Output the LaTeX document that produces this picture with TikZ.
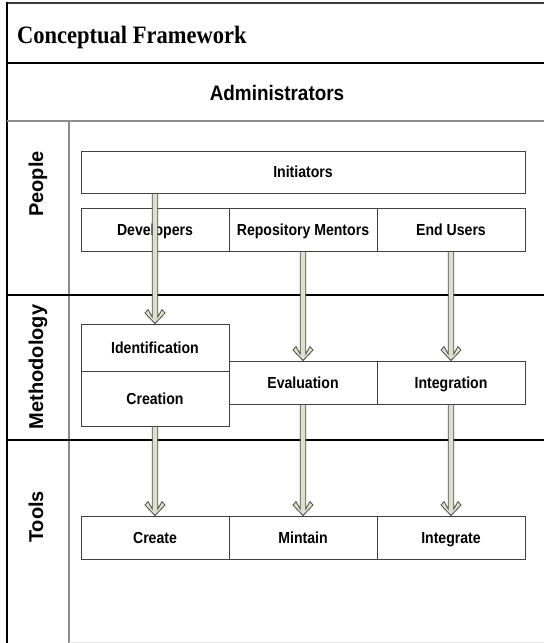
\documentclass[tikz,border=0pt]{standalone}
\usepackage{fontspec}
\setmainfont{Liberation Serif}
\setsansfont{Liberation Sans}
\usetikzlibrary{calc}

\definecolor{frameline}{HTML}{3A3A3A}
\definecolor{softline}{HTML}{8C8C8C}
\definecolor{boxline}{HTML}{404040}
\definecolor{arrowfill}{HTML}{DCE0CC}
\definecolor{arrowline}{HTML}{4A4A44}

% narrow the lettering a little, as the typeset labels are slightly condensed
\newcommand\sq[1]{\scalebox{0.88}[1]{#1}}

% hollow-headed block arrow running straight down from #1 to #2
\newcommand\fatarrow[2]{%
  \filldraw[fatarrow] let \p1=(#1), \p2=(#2) in
    (\x1-2.7pt,\y1) -- (\x1-2.7pt,\y2+6.5pt) -- (\x1-7pt,\y2+14pt)
    -- (\x1-10pt,\y2+10.5pt) -- (\x1,\y2) -- (\x1+10pt,\y2+10.5pt)
    -- (\x1+7pt,\y2+14pt) -- (\x1+2.7pt,\y2+6.5pt) -- (\x1+2.7pt,\y1) -- cycle;}

\tikzset{
  cell/.style={draw=boxline, line width=0.9pt, fill=white, inner sep=0pt,
    minimum width=148pt, minimum height=43pt, text height=11.5pt, text depth=0pt,
    font=\sffamily\bfseries\fontsize{16}{16}\selectfont},
  rowlabel/.style={rotate=90, anchor=base, inner sep=0pt,
    font=\sffamily\bfseries\fontsize{20}{20}\selectfont},
  fatarrow/.style={fill=arrowfill, draw=arrowline, line width=0.8pt, line join=miter},
}

\begin{document}
\begin{tikzpicture}[x=1pt, y=-1pt]
\useasboundingbox (0,0) rectangle (544,643);
\fill[white] (0,0) rectangle (544,643);

% outer frame and band separators
\draw[frameline, line width=2.2pt] (7,3) -- (544,3);
\draw[black, line width=1.6pt] (7,2) -- (7,643);
\draw[black, line width=2pt] (7,63) -- (544,63);
\draw[softline, line width=1.6pt] (7,121) -- (544,121);
\draw[softline, line width=2pt] (69,121) -- (69,643);
\draw[black, line width=1.3pt] (7,295) -- (544,295);
\draw[black, line width=1.3pt] (7,440) -- (544,440);
\draw[black!12, line width=1pt] (69,642) -- (544,642);

% headings
\node[anchor=base west, inner sep=0pt,
      font=\rmfamily\bfseries\fontsize{25}{25}\selectfont] (title) at (17,43)
      {\scalebox{0.9}[1]{Conceptual Framework}};
\node[anchor=base, inner sep=0pt,
      font=\sffamily\bfseries\fontsize{21}{21}\selectfont] (admin) at (277,100)
      {\scalebox{0.9}[1]{Administrators}};

% row labels
\node[rowlabel] (people) at (43,184) {People};
\node[rowlabel] (method) at (43,367) {Methodology};
\node[rowlabel] (tools)  at (43,517) {Tools};

% people
\node[cell, minimum width=444pt, minimum height=42pt] (init) at (303,172) {\sq{Initiators}};
\node[cell] (dev)  at (155,229.5) {\sq{Developers}};
\node[cell] (rep)  at (303,229.5) {\sq{Repository Mentors}};
\node[cell] (endu) at (451,229.5) {\sq{End Users}};

% methodology
\node[cell, minimum height=47pt] (ident) at (155,347.5) {\sq{Identification}};
\node[cell, minimum height=55pt] (creat) at (155,398.5) {\sq{Creation}};
\node[cell] (eval)  at (303,382.5) {\sq{Evaluation}};
\node[cell] (integ) at (451,382.5) {\sq{Integration}};

% tools
\node[cell] (create) at (155,537.5) {\sq{Create}};
\node[cell] (mint)   at (303,537.5) {\sq{Mintain}};
\node[cell] (intgr)  at (451,537.5) {\sq{Integrate}};

% flows
\fatarrow{dev.center |- init.south}{ident.north}
\fatarrow{rep.south}{eval.north}
\fatarrow{endu.south}{integ.north}
\fatarrow{creat.south}{create.north}
\fatarrow{eval.south}{mint.north}
\fatarrow{integ.south}{intgr.north}
\end{tikzpicture}
\end{document}
